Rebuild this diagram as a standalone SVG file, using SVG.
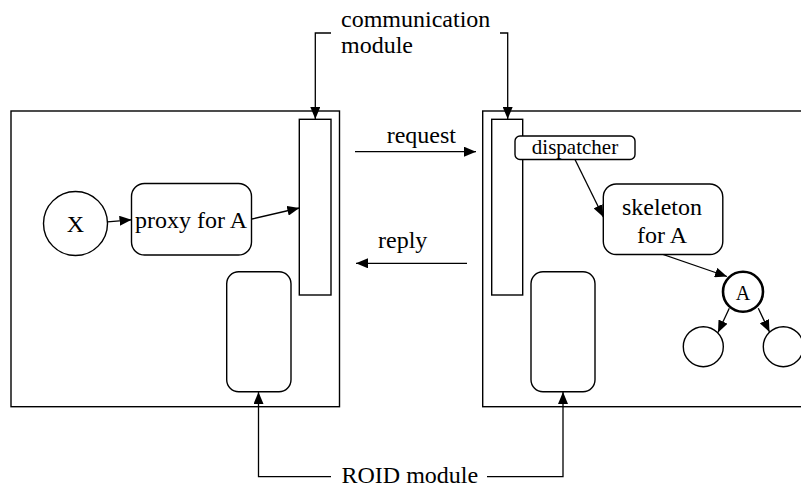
<svg xmlns="http://www.w3.org/2000/svg" width="801" height="487" viewBox="0 0 801 487">
<style>
.box{fill:#fff;stroke:#000;stroke-width:1.4}
.ln{fill:none;stroke:#000;stroke-width:1.3}
text{font-family:'Liberation Serif','DejaVu Serif',serif;font-size:24px;fill:#000}
.s{font-size:21px}
.m{text-anchor:middle}
</style>
<defs>
<marker id="ah" viewBox="0 0 12 10" refX="12" refY="5" markerWidth="12" markerHeight="10" markerUnits="userSpaceOnUse" orient="auto">
<path d="M0,0 L12,5 L0,10 z" fill="#000"/>
</marker>
</defs>
<rect width="801" height="487" fill="#fff"/>
<g id="left-site">
<rect class="box" x="11" y="111" width="328.5" height="295.7"/>
</g>
<g id="right-site">
<rect class="box" x="482.7" y="111" width="340" height="295.7"/>
</g>
<g id="left-comm">
<rect class="box" x="299.3" y="119.3" width="31.7" height="175.7"/>
</g>
<g id="right-comm">
<rect class="box" x="491.7" y="119.3" width="31" height="175.7"/>
</g>
<g id="left-roid">
<rect class="box" x="226.7" y="271.7" width="64.3" height="120" rx="12"/>
</g>
<g id="right-roid">
<rect class="box" x="531" y="271.7" width="64" height="120" rx="12"/>
</g>
<g id="x-node">
<circle class="box" cx="75.5" cy="223.5" r="32"/>
<text class="m" x="75.5" y="232" font-family="Liberation Serif, serif">X</text>
</g>
<g id="proxy">
<rect class="box" x="131.5" y="183.5" width="120" height="71.5" rx="13"/>
<text class="m" x="191" y="228" font-family="Liberation Serif, serif">proxy for A</text>
</g>
<g id="dispatcher">
<rect class="box" x="515" y="136" width="120" height="23.5" rx="5"/>
<text class="s m" x="575" y="154" font-family="Liberation Serif, serif">dispatcher</text>
</g>
<g id="skeleton">
<rect class="box" x="603.3" y="184" width="119.5" height="70.5" rx="13"/>
<text class="m" x="662" y="215" font-family="Liberation Serif, serif">skeleton</text>
<text class="m" x="662" y="243" font-family="Liberation Serif, serif">for A</text>
</g>
<g id="a-node">
<circle cx="743" cy="291.7" r="20" fill="#fff" stroke="#000" stroke-width="2.6"/>
<text class="m" x="743" y="300" style="font-size:20px" font-family="Liberation Serif, serif">A</text>
</g>
<g id="child-left">
<circle class="box" cx="703.3" cy="346.7" r="20"/>
</g>
<g id="child-right">
<circle class="box" cx="783.3" cy="346.7" r="20"/>
</g>
<g id="labels">
<text x="341" y="27">communication</text>
<text x="341" y="53">module</text>
<text x="386.7" y="143">request</text>
<text x="378" y="248">reply</text>
<text x="341.5" y="483">ROID module</text>
</g>
<g id="connectors">
<polyline class="ln" points="331,33 315.3,33 315.3,119" marker-end="url(#ah)"/>
<polyline class="ln" points="500,33 507.7,33 507.7,119" marker-end="url(#ah)"/>
<line class="ln" x1="355" y1="151.7" x2="476" y2="151.7" marker-end="url(#ah)"/>
<line class="ln" x1="467" y1="263.3" x2="356" y2="263.3" marker-end="url(#ah)"/>
<polyline class="ln" points="331,476.7 258.5,476.7 258.5,392" marker-end="url(#ah)"/>
<polyline class="ln" points="487,476.7 563,476.7 563,392" marker-end="url(#ah)"/>
<line class="ln" x1="107.5" y1="221.8" x2="131.5" y2="219.8" marker-end="url(#ah)"/>
<line class="ln" x1="252" y1="219" x2="299.3" y2="208" marker-end="url(#ah)"/>
<line class="ln" x1="575" y1="159.5" x2="603.3" y2="217" marker-end="url(#ah)"/>
<line class="ln" x1="663" y1="254.5" x2="727" y2="276.5" marker-end="url(#ah)"/>
<line class="ln" x1="729.3" y1="308.3" x2="718" y2="332.5" marker-end="url(#ah)"/>
<line class="ln" x1="758.3" y1="308.3" x2="769.5" y2="332" marker-end="url(#ah)"/>
</g>
</svg>
